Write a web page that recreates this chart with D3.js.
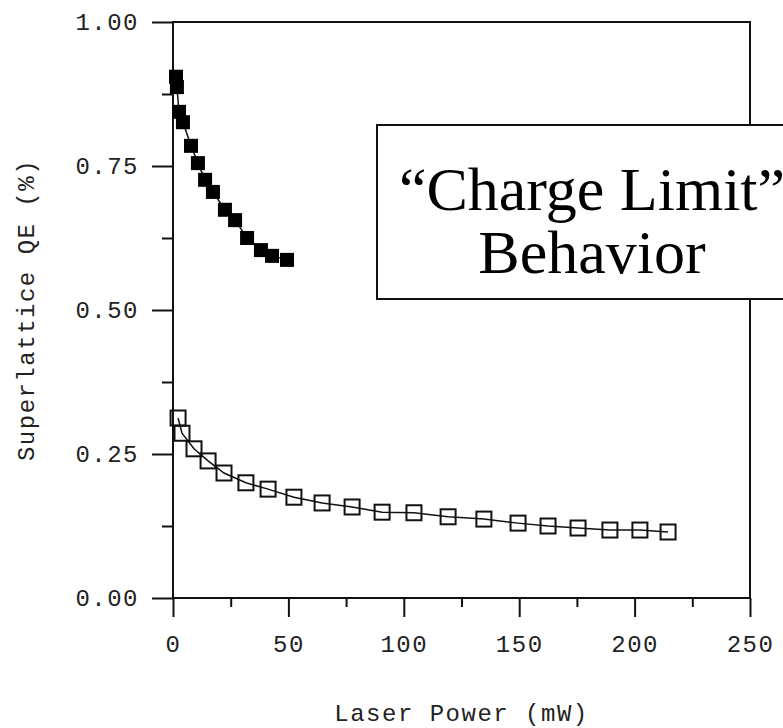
<!DOCTYPE html>
<html lang="en">
<head>
  <meta charset="UTF-8" />
  <title>Superlattice QE vs Laser Power</title>
  <script src="https://d3js.org/d3.v7.min.js"></script>
  <style>
    body {
      margin: 0;
      padding: 0;
      background: #fff;
    }
    .mono {
      font-family: "Liberation Mono", "DejaVu Sans Mono", monospace;
      font-size: 24px;
      letter-spacing: 1.5px;
      fill: #222;
    }
    .axis line {
      stroke: #111;
      stroke-width: 2;
    }
  </style>
</head>
<body>
  <div id="chart"></div>

  <script>
    // filled squares: high-QE sample
    const powerHigh = [1.3, 1.7, 2.6, 4.3, 7.8, 10.8, 13.9, 17.3, 22.5, 26.9, 32.1, 38.1, 42.9, 49.4];
    const qeHigh = [0.905, 0.887, 0.844, 0.826, 0.785, 0.755, 0.726, 0.705, 0.674, 0.656, 0.625, 0.604, 0.594, 0.587];

    // open squares: low-QE sample
    const powerLow = [2.2, 3.9, 9.1, 15.2, 22.1, 31.6, 41.2, 52.4, 64.6, 77.6, 90.6, 104.4, 119.2, 134.7,
      149.5, 162.5, 175.5, 189.3, 202.3, 214.5];
    const qeLow = [0.3125, 0.286, 0.259, 0.238, 0.217, 0.2, 0.189, 0.175, 0.165, 0.158, 0.149, 0.148,
      0.141, 0.137, 0.13, 0.125, 0.1215, 0.118, 0.118, 0.1146];

    const xTicks = [0, 50, 100, 150, 200, 250];
    const xMinorTicks = [25, 75, 125, 175, 225];
    const yTicks = [0, 0.25, 0.5, 0.75, 1.0];
    const yMinorTicks = [0.125, 0.375, 0.625, 0.875];

    const W = 783, H = 728;
    const plot = { left: 173, right: 750, top: 22, bottom: 598 };

    const svg = d3
      .select("#chart")
      .append("svg")
      .attr("width", W)
      .attr("height", H);

    const x = d3.scaleLinear().domain([0, 250]).range([plot.left, plot.right]);
    const y = d3.scaleLinear().domain([0, 1]).range([plot.bottom, plot.top]);

    // frame
    svg
      .append("rect")
      .attr("x", plot.left)
      .attr("y", plot.top)
      .attr("width", plot.right - plot.left)
      .attr("height", plot.bottom - plot.top)
      .attr("fill", "none")
      .attr("stroke", "#111")
      .attr("stroke-width", 2);

    // y axis
    const yAxis = svg
      .append("g")
      .attr("class", "axis")
      .attr("transform", `translate(${plot.left},0)`)
      .call(d3.axisLeft(y).tickValues(yTicks).tickSize(21).tickPadding(13).tickFormat(d3.format(".2f")));
    yAxis.select(".domain").remove();
    yAxis.selectAll("text").attr("class", "mono").attr("fill", null);

    const yMinor = svg
      .append("g")
      .attr("class", "axis")
      .attr("transform", `translate(${plot.left},0)`)
      .call(d3.axisLeft(y).tickValues(yMinorTicks).tickSize(11).tickFormat(""));
    yMinor.select(".domain").remove();

    // x axis
    const xAxis = svg
      .append("g")
      .attr("class", "axis")
      .attr("transform", `translate(0,${plot.bottom})`)
      .call(d3.axisBottom(x).tickValues(xTicks).tickSize(19).tickPadding(18));
    xAxis.select(".domain").remove();
    xAxis.selectAll("text").attr("class", "mono").attr("fill", null);

    const xMinor = svg
      .append("g")
      .attr("class", "axis")
      .attr("transform", `translate(0,${plot.bottom})`)
      .call(d3.axisBottom(x).tickValues(xMinorTicks).tickSize(9).tickFormat(""));
    xMinor.select(".domain").remove();

    // axis titles
    svg
      .append("text")
      .attr("class", "mono")
      .attr("text-anchor", "middle")
      .attr("transform", `translate(34,${(plot.top + plot.bottom) / 2}) rotate(-90)`)
      .text("Superlattice QE (%)");

    svg
      .append("text")
      .attr("class", "mono")
      .attr("text-anchor", "middle")
      .attr("x", (plot.left + plot.right) / 2)
      .attr("y", 721)
      .text("Laser Power (mW)");

    const line = d3
      .line()
      .x((d) => x(d[0]))
      .y((d) => y(d[1]));

    const highData = powerHigh.map((p, i) => [p, qeHigh[i]]);
    const lowData = powerLow.map((p, i) => [p, qeLow[i]]);

    // low series: line + open squares
    svg
      .append("path")
      .datum(lowData)
      .attr("d", line)
      .attr("fill", "none")
      .attr("stroke", "#111")
      .attr("stroke-width", 1.5);

    const sLow = 15;
    svg
      .selectAll(".sq-open")
      .data(lowData)
      .enter()
      .append("rect")
      .attr("class", "sq-open")
      .attr("x", (d) => x(d[0]) - sLow / 2)
      .attr("y", (d) => y(d[1]) - sLow / 2)
      .attr("width", sLow)
      .attr("height", sLow)
      .attr("fill", "none")
      .attr("stroke", "#111")
      .attr("stroke-width", 2);

    // high series: line + filled squares
    svg
      .append("path")
      .datum(highData)
      .attr("d", line)
      .attr("fill", "none")
      .attr("stroke", "#111")
      .attr("stroke-width", 1.5);

    const sHigh = 14;
    svg
      .selectAll(".sq-fill")
      .data(highData)
      .enter()
      .append("rect")
      .attr("class", "sq-fill")
      .attr("x", (d) => x(d[0]) - sHigh / 2)
      .attr("y", (d) => y(d[1]) - sHigh / 2)
      .attr("width", sHigh)
      .attr("height", sHigh)
      .attr("fill", "#000");

    // annotation box (runs past the right edge, as in the original slide)
    svg
      .append("rect")
      .attr("x", 377)
      .attr("y", 125)
      .attr("width", 440)
      .attr("height", 174)
      .attr("fill", "#fff")
      .attr("stroke", "#111")
      .attr("stroke-width", 2);

    const note = svg
      .append("text")
      .attr("text-anchor", "middle")
      .style("font-family", "'Liberation Serif', 'Times New Roman', serif")
      .style("font-size", "62px")
      .attr("fill", "#000");
    note.append("tspan").attr("x", 592).attr("y", 210).text("\u201CCharge Limit\u201D");
    note.append("tspan").attr("x", 592).attr("y", 273).text("Behavior");
  </script>
</body>
</html>
